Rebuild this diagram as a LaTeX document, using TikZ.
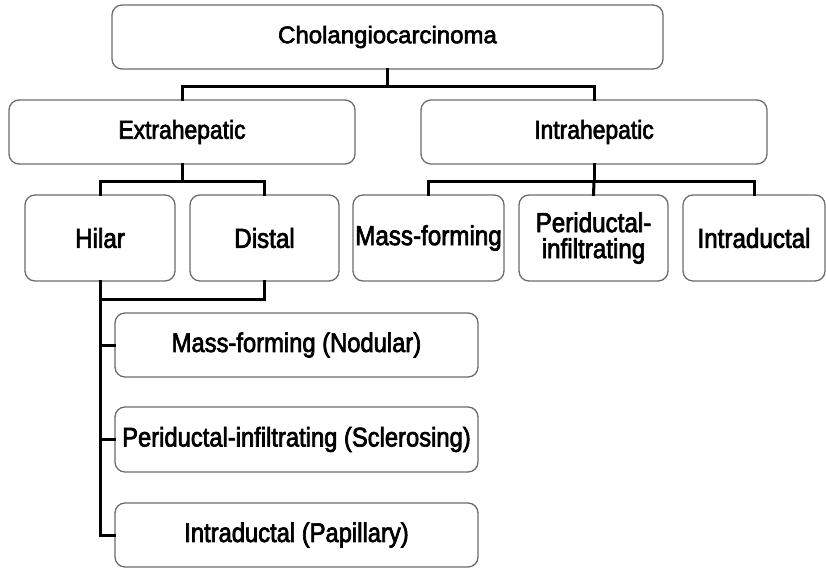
\documentclass[tikz,border=0pt]{standalone}
\usepackage{fontspec}
\setmainfont{Liberation Sans}
\newfontfamily\plainfont{Liberation Sans}[FakeBold=2.5]
\newfontfamily\narrowfont{Liberation Sans}[FakeStretch=0.88, FakeBold=2.5]
\usepackage{tikz}
\usetikzlibrary{calc}

\tikzset{
    box/.style={draw=gray!85!black, line width=1.3pt, rounded corners=10pt, fill=white,
        inner sep=0pt, align=center},
    toptext/.style={font=\plainfont\fontsize{24}{27}\selectfont},
    midtext/.style={font=\narrowfont\fontsize{26}{28}\selectfont},
    lowtext/.style={font=\narrowfont\fontsize{27.5}{26}\selectfont},
    subtext/.style={font=\narrowfont\fontsize{27}{28}\selectfont},
    link/.style={line width=3pt, line cap=rect}
}

\begin{document}
\begin{tikzpicture}[x=1pt,y=-1pt]

\useasboundingbox (0,0) rectangle (826,569);

% Boxes
\node[box, toptext, minimum width=551pt, minimum height=64pt] (chol) at (387.5,37) {Cholangiocarcinoma};
\node[box, midtext, minimum width=346pt, minimum height=64pt] (extra) at (182,132) {Extrahepatic};
\node[box, midtext, minimum width=346pt, minimum height=64pt] (intra) at (594,132) {Intrahepatic};

\node[box, lowtext, minimum width=150pt, minimum height=86pt] (hilar) at (100,238) {Hilar};
\node[box, lowtext, minimum width=149pt, minimum height=86pt] (distal) at (264.5,238) {Distal};
\node[box, lowtext, minimum width=151pt, minimum height=86pt] (massf) at (428.5,238) {Mass-forming};
\node[box, lowtext, minimum width=149pt, minimum height=86pt] (perinf) at (593.5,238) {Periductal-\\infiltrating};
\node[box, lowtext, minimum width=142pt, minimum height=86pt] (intrad) at (754,238) {Intraductal};

\node[box, subtext, minimum width=363pt, minimum height=64pt] (nodular) at (296.5,345) {Mass-forming (Nodular)};
\node[box, subtext, minimum width=363pt, minimum height=65pt] (scler) at (296.5,439.5) {Periductal-infiltrating (Sclerosing)};
\node[box, subtext, minimum width=363pt, minimum height=64pt] (papil) at (296.5,535) {Intraductal (Papillary)};

% Bus points
\coordinate (busA) at (387.5,87);
\coordinate (busB) at (182,182);
\coordinate (busC) at (594,182);
\coordinate (busD) at (100,299);

% Connectors
\draw[link] (chol.south) -- (busA);
\draw[link] (extra.north) |- (busA) -| (intra.north);

\draw[link] (extra.south) -- (busB);
\draw[link] (hilar.north) |- (busB) -| (distal.north);

\draw[link] (intra.south) -- (busC);
\draw[link] (massf.north) |- (busC) -| (intrad.north);
\draw[link] (busC) -- (perinf.north);

\draw[link] (distal.south) |- (busD);
\draw[link] (hilar.south) |- (papil.west);
\draw[link] (nodular.west) -- (nodular.west -| hilar.south);
\draw[link] (scler.west) -- (scler.west -| hilar.south);

\end{tikzpicture}
\end{document}
